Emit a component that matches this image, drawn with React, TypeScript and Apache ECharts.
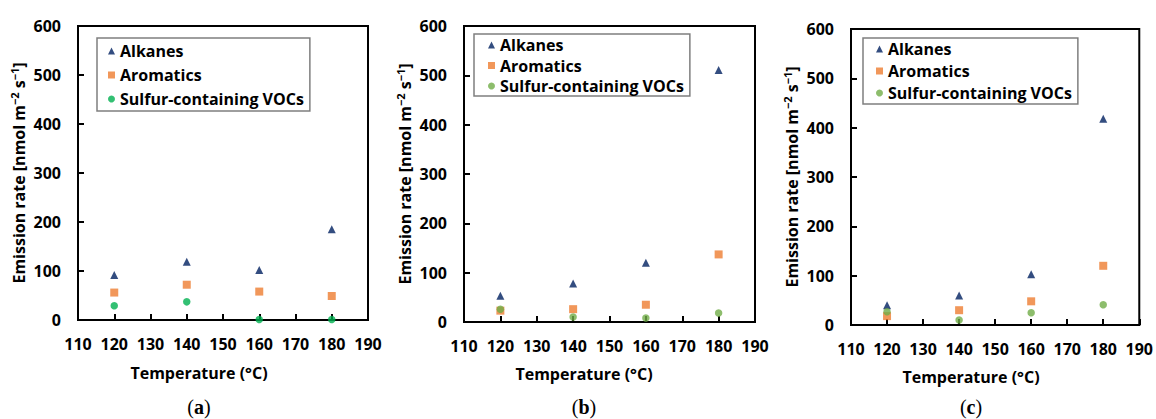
import React, { useEffect, useRef } from "react";
import * as echarts from "echarts";

const temps = [120, 140, 160, 180];
const xTicks = [110, 120, 130, 140, 150, 160, 170, 180, 190];
const seriesNames = ["Alkanes", "Aromatics", "Sulfur-containing VOCs"];
const xTitle = "Temperature (°C)";

const alkanesA = [92, 119, 102, 185];
const aromaticsA = [56, 72, 58, 49];
const sulfurA = [29, 37, 1, 1];

const alkanesB = [53, 78, 120, 511];
const aromaticsB = [23, 26, 35, 137];
const sulfurB = [26, 10, 8, 18];

const alkanesC = [40, 60, 103, 418];
const aromaticsC = [18, 30, 48, 120];
const sulfurC = [27, 10, 25, 41];

const panelLabels = ["a", "b", "c"];

const FONT = "Open Sans";
const NAVY = "#002060";
const ORANGE = "#ED7D31";
const GREEN_A = "#00B050";
const GREEN_BC = "#70AD47";

const panels = [
  {
    data: [alkanesA, aromaticsA, sulfurA],
    green: GREEN_A,
    grid: { left: 78, top: 26, width: 290, height: 294 },
    legend: { left: 97, top: 38, padding: [5, 6, 4, 11], itemGap: 8 },
    caption: 199,
    titleY: 373,
  },
  {
    data: [alkanesB, aromaticsB, sulfurB],
    green: GREEN_BC,
    grid: { left: 464, top: 26, width: 291, height: 296 },
    legend: { left: 474, top: 34, padding: [3, 6, 2, 14], itemGap: 4.5 },
    caption: 584,
    titleY: 374,
  },
  {
    data: [alkanesC, aromaticsC, sulfurC],
    green: GREEN_BC,
    grid: { left: 851, top: 29, width: 290, height: 296 },
    legend: { left: 863, top: 38, padding: [3, 6, 3, 13], itemGap: 6 },
    caption: 971,
    titleY: 377,
  },
];

export default function App() {
  const ref = useRef<HTMLDivElement>(null);
  useEffect(() => {
    if (!ref.current) return;
    const chart = echarts.init(ref.current, undefined, { renderer: "svg" });
    const symbols = ["triangle", "rect", "circle"];
    const sizes = [8, 8, 7.5];
    const grids: any[] = [];
    const xAxes: any[] = [];
    const yAxes: any[] = [];
    const legends: any[] = [];
    const series: any[] = [];
    const graphics: any[] = [];
    panels.forEach((p, i) => {
      const colors = [NAVY, ORANGE, p.green];
      grids.push({
        ...p.grid,
        show: true,
        borderColor: "#000",
        borderWidth: 2,
        backgroundColor: "transparent",
      });
      xAxes.push({
        type: "value",
        gridIndex: i,
        min: 110,
        max: 190,
        interval: 10,
        axisLine: { show: true, lineStyle: { color: "#000", width: 2 } },
        axisTick: { show: true, inside: true, length: 6, lineStyle: { color: "#000", width: 2 } },
        splitLine: { show: false },
        axisLabel: {
          color: "#000",
          fontFamily: FONT,
          fontWeight: "bold",
          fontSize: 16,
          margin: 16,
          formatter: (v: number) => (xTicks.includes(v) ? String(v) : ""),
        },
      });
      yAxes.push({
        type: "value",
        gridIndex: i,
        min: 0,
        max: 600,
        interval: 100,
        axisLine: { show: true, lineStyle: { color: "#000", width: 2 } },
        axisTick: { show: true, inside: true, length: 6, lineStyle: { color: "#000", width: 2 } },
        splitLine: { show: false },
        axisLabel: {
          color: "#000",
          fontFamily: FONT,
          fontWeight: "bold",
          fontSize: 16,
          margin: 17,
        },
        name: "{m|Emission rate [nmol m}{s|−2}{m| s}{s|−1}{m|]}",
        nameLocation: "middle",
        nameRotate: 90,
        nameGap: 49,
        nameTextStyle: {
          color: "#000",
          fontFamily: FONT,
          fontWeight: "bold",
          fontSize: 16,
          rich: {
            m: { fontFamily: FONT, fontWeight: "bold", fontSize: 16, lineHeight: 20, color: "#000" },
            s: { fontFamily: FONT, fontWeight: "bold", fontSize: 11, lineHeight: 12, verticalAlign: "top", color: "#000" },
          },
        },
      });
      legends.push({
        orient: "vertical",
        left: p.legend.left,
        top: p.legend.top,
        padding: p.legend.padding,
        itemGap: p.legend.itemGap,
        itemWidth: 7,
        itemHeight: 7,
        itemTextGap: 7,
        borderColor: "#7f7f7f",
        borderWidth: 1.5,
        backgroundColor: "#fff",
        selectedMode: false,
        textStyle: { color: "#000", fontFamily: FONT, fontWeight: "bold", fontSize: 16 },
        data: seriesNames.map((n, k) => ({
          name: n,
          icon: symbols[k],
          itemStyle: { color: colors[k] },
        })),
      });
      seriesNames.forEach((n, k) => {
        series.push({
          type: "scatter",
          name: n,
          xAxisIndex: i,
          yAxisIndex: i,
          symbol: symbols[k],
          symbolSize: sizes[k],
          itemStyle: { color: colors[k] },
          data: temps.map((t, j) => [t, p.data[k][j]]),
        });
      });
      graphics.push({
        type: "text",
        x: p.caption,
        y: p.titleY,
        style: {
          text: xTitle,
          align: "center",
          verticalAlign: "middle",
          fontFamily: FONT,
          fontWeight: "bold",
          fontSize: 16,
          fill: "#000",
        },
      });
      graphics.push({
        type: "text",
        x: p.caption,
        y: 407,
        style: {
          text: "{p|(}{b|" + panelLabels[i] + "}{p|)}",
          align: "center",
          verticalAlign: "middle",
          rich: {
            p: { fontFamily: "Liberation Serif", fontSize: 20, fill: "#000" },
            b: { fontFamily: "Liberation Serif", fontSize: 20, fontWeight: "bold", fill: "#000" },
          },
        },
      });
    });
    chart.setOption({
      animation: false,
      backgroundColor: "#fff",
      grid: grids,
      xAxis: xAxes,
      yAxis: yAxes,
      legend: legends,
      series,
      graphic: graphics,
    });
    return () => chart.dispose();
  }, []);
  return (
    <div
      ref={ref}
      style={{ position: "absolute", left: 0, top: 0, width: 1156, height: 419 }}
    />
  );
}
